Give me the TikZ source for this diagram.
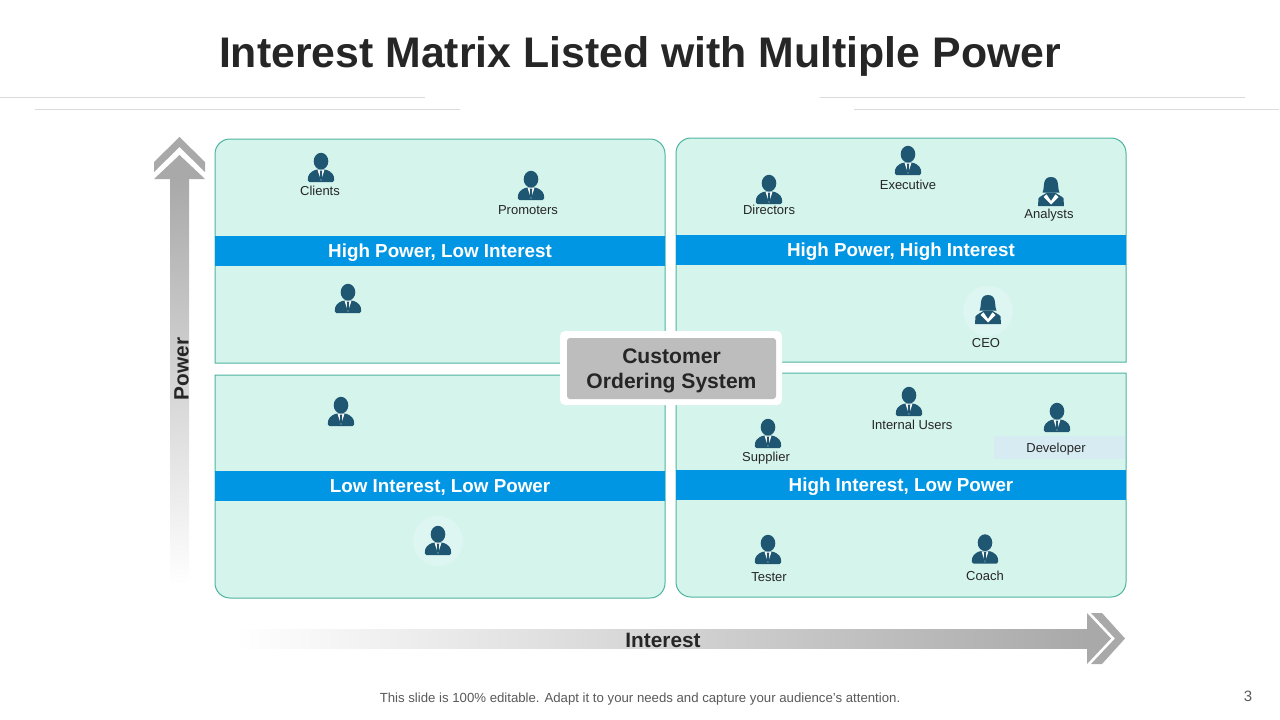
\documentclass[tikz,border=0pt]{standalone}
\usepackage{fontspec}
\setmainfont{Liberation Sans}
\definecolor{panelfill}{HTML}{D4F4EC}
\definecolor{panelline}{HTML}{4FB3A0}
\definecolor{bandblue}{HTML}{0096E4}
\definecolor{iconblue}{HTML}{1F5672}
\definecolor{arrowgray}{HTML}{A9A9A9}
\definecolor{boxgray}{HTML}{BDBDBD}
\definecolor{inkdark}{HTML}{262626}
\definecolor{rulegray}{HTML}{DADADA}
\definecolor{halofill}{HTML}{DDF6F1}
\definecolor{devfill}{HTML}{D6EBF2}
\tikzset{
    panel/.style={draw=panelline, fill=panelfill, line width=1pt},
    band/.style={fill=bandblue, text=white, minimum width=450pt, minimum height=30pt, inner sep=0pt,
        text height=12.5pt, text depth=0pt, font=\fontsize{18.8}{20}\selectfont\bfseries},
    namelabel/.style={text=inkdark, inner sep=0pt, text height=11.5pt, text depth=0pt, font=\fontsize{13}{15}\selectfont},
    axislabel/.style={text=inkdark, inner sep=0pt, text height=15pt, text depth=0pt, font=\fontsize{20.8}{22}\selectfont\bfseries},
    rulepart/.style={draw=rulegray, line width=0.8pt},
    pics/man/.style={code={
        \fill[iconblue] (0,-6.3) ellipse (7.3pt and 8.4pt);
        \fill[iconblue, rounded corners=1.5pt] (-13,14.5) .. controls (-13.8,7) and (-10,4.2) .. (-4.5,2) -- (4.5,2)
            .. controls (10,4.2) and (13.8,7) .. (13,14.5) -- cycle;
        \fill[white] (-3.4,2.4) -- (3.4,2.4) -- (0,13.5) -- cycle;
        \fill[iconblue] (-1.3,3) -- (1.3,3) -- (0.8,5.5) -- (1.5,10) -- (0,13) -- (-1.5,10) -- (-0.8,5.5) -- cycle;
    }},
    pics/woman/.style={code={
        \fill[iconblue] (-8.5,1) .. controls (-6,-3) and (-9.5,-14.5) .. (0,-14.5)
            .. controls (9.5,-14.5) and (6,-3) .. (8.5,1) -- cycle;
        \fill[iconblue] (-13,14.5) -- (-12.5,7) .. controls (-11,4.5) and (-7,3.5) .. (-4,1) -- (4,1)
            .. controls (7,3.5) and (11,4.5) .. (12.5,7) -- (13,14.5) -- cycle;
        \fill[white] (-7.5,5.5) -- (-4.5,2.8) -- (0,9.5) -- (4.5,2.8) -- (7.5,5.5) -- (2.5,10.5) -- (0,13) -- (-2.5,10.5) -- cycle;
    }},
}
\begin{document}
\begin{tikzpicture}[x=1pt, y=-1pt]
    \useasboundingbox (0,0) rectangle (1280,720);

    % header
    \node (title) [text=inkdark, inner sep=0pt, font=\fontsize{42.8}{46}\selectfont\bfseries] at (640,56) {Interest Matrix Listed with Multiple Power};
    \draw [rulepart] (0,97) -- (425,97);
    \draw [rulepart] (35,109) -- (460,109);
    \draw [rulepart] (820,97) -- (1245,97);
    \draw [rulepart] (854,109) -- (1279,109);

    % power arrow
    \shade [top color=arrowgray, bottom color=white] (170,179) rectangle (189,585);
    \fill [arrowgray] (154,179) -- (179.5,155) -- (205,179) -- cycle;
    \fill [arrowgray] (179.5,137) -- (205,162) -- (205,172) -- (179.5,147) -- (154,172) -- (154,162) -- cycle;
    \node (power) [axislabel, rotate=90] at (181,369) {Power};

    % interest arrow
    \shade [left color=white, right color=arrowgray] (235,629) rectangle (1087,648);
    \fill [arrowgray] (1087,613) -- (1111,638.5) -- (1087,664) -- cycle;
    \fill [arrowgray] (1091,613) -- (1102,613) -- (1125,638.5) -- (1102,664) -- (1091,664) -- (1115,638.5) -- cycle;
    \node (interest) [axislabel] at (663,640) {Interest};

    % panels
    \draw [panel, rounded corners=15pt] (215,250) -- (215,139) -- (665,139) -- (665,250) [sharp corners] -- (665,363) -- (215,363) -- cycle;
    \draw [panel, rounded corners=15pt] (676,250) -- (676,138) -- (1126,138) -- (1126,250) [sharp corners] -- (1126,362) -- (676,362) -- cycle;
    \draw [panel, rounded corners=15pt] (215,490) -- (215,598) -- (665,598) -- (665,490) [sharp corners] -- (665,375) -- (215,375) -- cycle;
    \draw [panel, rounded corners=15pt] (676,490) -- (676,597) -- (1126,597) -- (1126,490) [sharp corners] -- (1126,373) -- (676,373) -- cycle;

    % bands
    \node (hplibox) [band] at (440,251) {High Power, Low Interest};
    \node (hphibox) [band] at (901,250) {High Power, High Interest};
    \node (lilpbox) [band] at (440,486) {Low Interest, Low Power};
    \node (hilpbox) [band] at (901,485) {High Interest, Low Power};

    % halos and developer strip
    \fill [halofill] (988,311) circle (25pt);
    \fill [halofill] (438,541) circle (25pt);
    \fill [devfill] (994,436) rectangle (1125,459);

    % people
    \pic at (321,167.5) {man};
    \pic at (531,185.5) {man};
    \pic at (348,298.5) {man};
    \pic at (769,189.5) {man};
    \pic at (908,160.5) {man};
    \pic at (1051,191.5) {woman};
    \pic at (988,309.5) {woman};
    \pic at (341,411.5) {man};
    \pic at (768,433.5) {man};
    \pic at (909,401.5) {man};
    \pic at (1057,417.5) {man};
    \pic at (438,540.5) {man};
    \pic at (768,549.5) {man};
    \pic at (985,549) {man};

    % names
    \node (clients) [namelabel] at (320,190) {Clients};
    \node (promoters) [namelabel] at (528,209) {Promoters};
    \node (directors) [namelabel] at (769,209) {Directors};
    \node (executive) [namelabel] at (908,184) {Executive};
    \node (analysts) [namelabel] at (1049,213) {Analysts};
    \node (ceo) [namelabel] at (986,342) {CEO};
    \node (supplier) [namelabel] at (766,456) {Supplier};
    \node (internal) [namelabel] at (912,424) {Internal Users};
    \node (developer) [namelabel] at (1056,447) {Developer};
    \node (tester) [namelabel] at (769,576) {Tester};
    \node (coach) [namelabel] at (985,575) {Coach};

    % centre box
    \fill [white, rounded corners=5pt] (560,331) rectangle (782,405);
    \node (systembox) [fill=boxgray, rounded corners=3pt, minimum width=209pt, minimum height=61pt, inner sep=0pt] at (671.5,368.5) {};
    \node (system) [inner sep=0pt, text=inkdark, align=center, font=\fontsize{21.1}{25}\selectfont\bfseries] at (671.5,371) {Customer\\Ordering System};

    % footer
    \node (footer) [inner sep=0pt, text=black!65, font=\fontsize{13.2}{15}\selectfont] at (640,699.5) {This slide is 100\% editable. Adapt it to your needs and capture your audience's attention.};
    \node (pagenum) [inner sep=0pt, text=black!65, font=\fontsize{15}{17}\selectfont] at (1248,696) {3};
\end{tikzpicture}
\end{document}
